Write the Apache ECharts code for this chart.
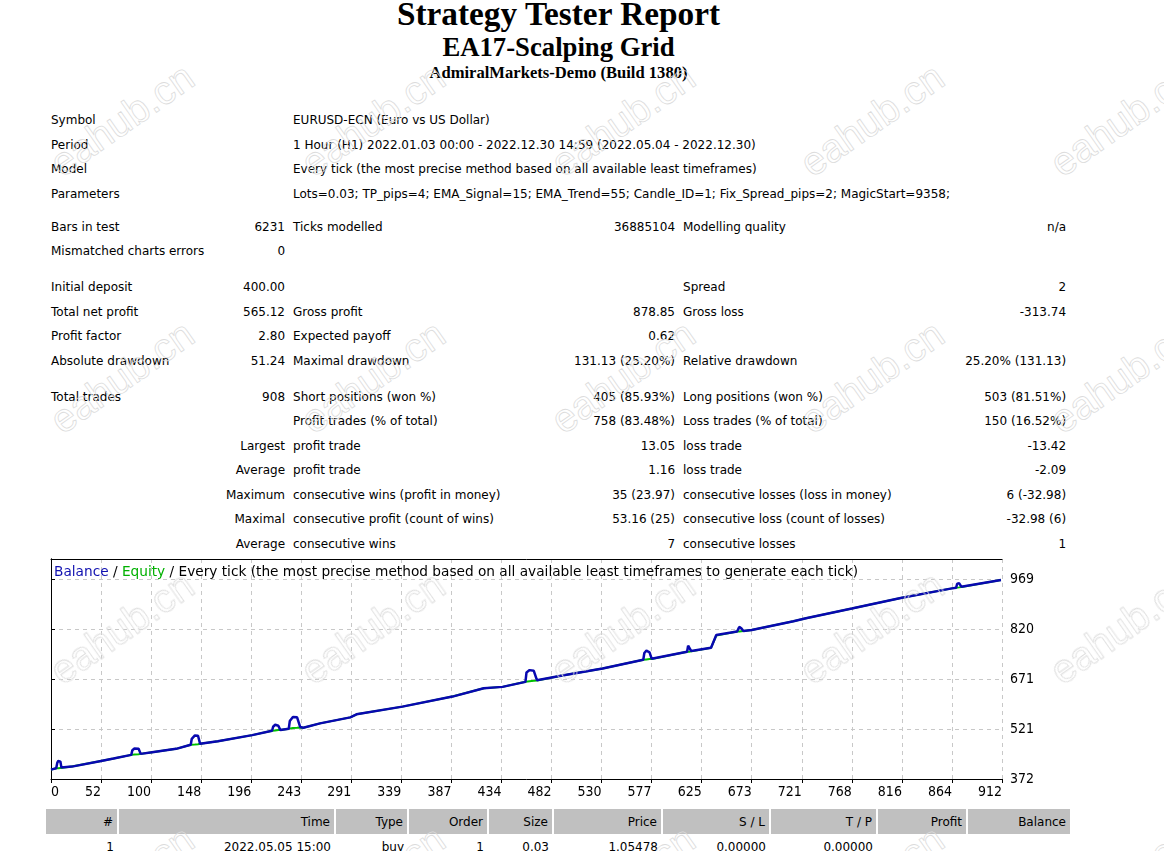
<!DOCTYPE html>
<html>
<head>
<meta charset="utf-8">
<title>Strategy Tester: EA17-Scalping Grid</title>
<script src="https://cdn.jsdelivr.net/npm/echarts@6/dist/echarts.min.js"></script>
<style>
    body { margin: 0; background: #fff; color: #000; font-family: 'DejaVu Sans', sans-serif; font-size: 12px; }
    .hdr { position: absolute; left: 47px; width: 1023px; text-align: center; font-family: 'Liberation Serif', 'Times New Roman', serif; font-weight: bold; white-space: nowrap; }
    #h1 { top: -2px; font-size: 33.3px; line-height: 32px; }
    #h2 { top: 34px; font-size: 26.7px; line-height: 26px; }
    #h3 { top: 65px; font-size: 16.6px; line-height: 16px; }
    table { border-collapse: collapse; table-layout: fixed; }
    #summary { position: absolute; left: 47px; top: 108px; width: 1023px; }
    #summary td { padding: 0 4px; height: 24.5px; white-space: nowrap; overflow: visible; }
    #summary tr.gap1 td { height: 8.5px; }
    #summary tr.gap2 td { height: 11.5px; }
    .r { text-align: right; }
    #chart { position: absolute; left: 47px; top: 555px; width: 1023px; height: 250px; }
    #trades { position: absolute; left: 46px; top: 809px; width: 1025px; }
    #trades td { padding: 0 4px; text-align: right; white-space: nowrap; }
    #trades tr.head td { background: #c0c0c0; height: 25px; border-right: 2px solid #fff; }
    #trades tr.row td { height: 25px; }
    .wm { position: absolute; z-index: 10; pointer-events: none; transform: translate(-50%, -50%) rotate(-35deg);
          font-family: 'Liberation Sans', Arial, sans-serif; font-size: 40px; color: transparent;
          -webkit-text-stroke: 0.8px #dcdcdc; white-space: nowrap; }
</style>
</head>
<body>
<div class="hdr" id="h1">Strategy Tester Report</div>
<div class="hdr" id="h2">EA17-Scalping Grid</div>
<div class="hdr" id="h3">AdmiralMarkets-Demo (Build 1380)</div>

<table id="summary">
    <colgroup>
        <col style="width:143px"><col style="width:99px"><col style="width:271px">
        <col style="width:119px"><col style="width:271px"><col style="width:120px">
    </colgroup>
    <tr><td colspan="2">Symbol</td><td colspan="4">EURUSD-ECN (Euro vs US Dollar)</td></tr>
    <tr><td colspan="2">Period</td><td colspan="4">1 Hour (H1) 2022.01.03 00:00 - 2022.12.30 14:59 (2022.05.04 - 2022.12.30)</td></tr>
    <tr><td colspan="2">Model</td><td colspan="4">Every tick (the most precise method based on all available least timeframes)</td></tr>
    <tr><td colspan="2">Parameters</td><td colspan="4">Lots=0.03; TP_pips=4; EMA_Signal=15; EMA_Trend=55; Candle_ID=1; Fix_Spread_pips=2; MagicStart=9358;</td></tr>
    <tr class="gap1"><td colspan="6"></td></tr>
    <tr><td>Bars in test</td><td class="r">6231</td><td>Ticks modelled</td><td class="r">36885104</td><td>Modelling quality</td><td class="r">n/a</td></tr>
    <tr><td>Mismatched charts errors</td><td class="r">0</td><td></td><td></td><td></td><td></td></tr>
    <tr class="gap2"><td colspan="6"></td></tr>
    <tr><td>Initial deposit</td><td class="r">400.00</td><td></td><td></td><td>Spread</td><td class="r">2</td></tr>
    <tr><td>Total net profit</td><td class="r">565.12</td><td>Gross profit</td><td class="r">878.85</td><td>Gross loss</td><td class="r">-313.74</td></tr>
    <tr><td>Profit factor</td><td class="r">2.80</td><td>Expected payoff</td><td class="r">0.62</td><td></td><td></td></tr>
    <tr><td>Absolute drawdown</td><td class="r">51.24</td><td>Maximal drawdown</td><td class="r">131.13 (25.20%)</td><td>Relative drawdown</td><td class="r">25.20% (131.13)</td></tr>
    <tr class="gap2"><td colspan="6"></td></tr>
    <tr><td>Total trades</td><td class="r">908</td><td>Short positions (won %)</td><td class="r">405 (85.93%)</td><td>Long positions (won %)</td><td class="r">503 (81.51%)</td></tr>
    <tr><td></td><td></td><td>Profit trades (% of total)</td><td class="r">758 (83.48%)</td><td>Loss trades (% of total)</td><td class="r">150 (16.52%)</td></tr>
    <tr><td></td><td class="r">Largest</td><td>profit trade</td><td class="r">13.05</td><td>loss trade</td><td class="r">-13.42</td></tr>
    <tr><td></td><td class="r">Average</td><td>profit trade</td><td class="r">1.16</td><td>loss trade</td><td class="r">-2.09</td></tr>
    <tr><td></td><td class="r">Maximum</td><td>consecutive wins (profit in money)</td><td class="r">35 (23.97)</td><td>consecutive losses (loss in money)</td><td class="r">6 (-32.98)</td></tr>
    <tr><td></td><td class="r">Maximal</td><td>consecutive profit (count of wins)</td><td class="r">53.16 (25)</td><td>consecutive loss (count of losses)</td><td class="r">-32.98 (6)</td></tr>
    <tr><td></td><td class="r">Average</td><td>consecutive wins</td><td class="r">7</td><td>consecutive losses</td><td class="r">1</td></tr>
</table>

<div id="chart"></div>

<table id="trades">
    <colgroup>
        <col style="width:72px"><col style="width:217px"><col style="width:73px"><col style="width:80px"><col style="width:65px">
        <col style="width:109px"><col style="width:108px"><col style="width:107px"><col style="width:90px"><col style="width:104px">
    </colgroup>
    <tr class="head"><td>#</td><td>Time</td><td>Type</td><td>Order</td><td>Size</td><td>Price</td><td>S / L</td><td>T / P</td><td>Profit</td><td>Balance</td></tr>
    <tr class="row"><td>1</td><td>2022.05.05 15:00</td><td>buy</td><td>1</td><td>0.03</td><td>1.05478</td><td>0.00000</td><td>0.00000</td><td></td><td></td></tr>
</table>

<div id="watermarks"></div>

<script>
// 图表数据（从报告曲线上读取）
const tradeIdx = [0, 5, 6, 7, 9, 10, 20, 48, 60, 77, 78, 80, 84, 86, 97, 120, 134, 135, 138, 141, 143, 160, 193,
    212, 213, 215, 218, 220, 228, 229, 232, 236, 239, 242, 258, 287, 293, 337, 385, 415, 433,
    455, 456, 459, 463, 466, 489, 529, 568, 569, 571, 574, 576, 610, 611, 612, 614, 633, 634, 638, 639,
    658, 660, 662, 664, 672, 712, 724, 768, 816, 864, 868, 869, 871, 873, 911];
const balanceVals = [400, 404, 420, 426, 424, 406, 409, 426, 433, 444, 458, 463, 462, 447, 452, 462, 474, 492, 502, 501, 477, 485, 503,
    516, 528, 534, 531, 518, 522, 545, 557, 556, 527, 525, 538, 556, 565, 588, 618, 643, 647,
    662, 690, 697, 695, 667, 680, 702, 728, 748, 755, 750, 731, 752, 770, 774, 754, 764, 766, 802, 804,
    812, 826, 822, 814, 817, 843, 852, 881, 913, 941, 943, 955, 956, 946, 966];
const equityVals = [400, 404, 404, 404, 405, 406, 409, 426, 433, 444, 445, 445, 446, 447, 452, 462, 474, 475, 475, 476, 477, 485, 503,
    516, 517, 517, 518, 518, 522, 524, 524, 525, 526, 525, 538, 556, 565, 588, 618, 643, 647,
    662, 664, 664, 665, 666, 680, 702, 728, 729, 729, 730, 730, 752, 752, 752, 753, 764, 764, 800, 804,
    812, 812, 813, 814, 817, 843, 852, 881, 913, 941, 943, 943, 944, 945, 966];

// 坐标轴刻度
const xTickLabels = ['0', '52', '100', '148', '196', '243', '291', '339', '387', '434', '482',
    '530', '577', '625', '673', '721', '768', '816', '864', '912'];
const yTickLabels = ['372', '521', '671', '820', '969'];

const X_STEP = 48;
const Y_MIN = 372;
const Y_STEP = 149.25;

const CHART_FONT = "'DejaVu Sans Condensed', 'DejaVu Sans', sans-serif";
const TITLE_FONT = "'DejaVu Sans', sans-serif";

// 水印位置
const wmX = [122, 373, 623, 872, 1122];
const wmY = [120, 377, 628, 882];

function addWatermarks() {
    const box = document.getElementById('watermarks');
    wmY.forEach(y => wmX.forEach(x => {
        const d = document.createElement('div');
        d.className = 'wm';
        d.textContent = 'eahub.cn';
        d.style.left = x + 'px';
        d.style.top = y + 'px';
        box.appendChild(d);
    }));
}

function initChart() {
    const chart = echarts.init(document.getElementById('chart'), null, { renderer: 'canvas' });

    const balance = tradeIdx.map((t, i) => [t, balanceVals[i]]);
    const equity = tradeIdx.map((t, i) => [t, equityVals[i]]);

    const frameAxis = {
        axisLine: { show: true, lineStyle: { color: '#000', width: 1 } },
        axisTick: { show: false },
        axisLabel: { show: false },
        splitLine: { show: false }
    };

    const option = {
        animation: false,
        backgroundColor: '#fff',
        title: {
            text: '{b|Balance} / {g|Equity} / Every tick (the most precise method based on all available least timeframes to generate each tick)',
            left: 7,
            top: 10,
            padding: 0,
            textStyle: {
                fontFamily: TITLE_FONT,
                fontSize: 13.7,
                fontWeight: 'normal',
                color: '#000',
                rich: {
                    b: { color: '#1010b0', fontFamily: TITLE_FONT, fontSize: 13.7 },
                    g: { color: '#00b000', fontFamily: TITLE_FONT, fontSize: 13.7 }
                }
            }
        },
        grid: {
            left: 4,
            right: 68,
            top: 4,
            bottom: 26,
            containLabel: false
        },
        xAxis: [{
            type: 'value',
            min: 0,
            max: 912,
            interval: X_STEP,
            axisLine: { show: true, lineStyle: { color: '#000', width: 1 } },
            axisTick: { show: true, length: 4, lineStyle: { color: '#000' } },
            splitLine: { show: true, lineStyle: { color: '#c8c8c8', type: [4, 4], width: 1 } },
            axisLabel: {
                margin: 6,
                align: 'right',
                alignMinLabel: 'left',
                fontFamily: CHART_FONT,
                fontSize: 14,
                color: '#000',
                formatter: v => xTickLabels[Math.round(v / X_STEP)] || ''
            }
        }, Object.assign({ type: 'value', position: 'top', min: 0, max: 912 }, frameAxis)],
        yAxis: [{
            type: 'value',
            position: 'right',
            min: Y_MIN,
            max: 1028.7,
            interval: Y_STEP,
            axisLine: { show: true, lineStyle: { color: '#000', width: 1 } },
            axisTick: { show: true, length: 4, lineStyle: { color: '#000' } },
            splitLine: { show: true, lineStyle: { color: '#c8c8c8', type: [4, 4], width: 1 } },
            axisLabel: {
                margin: 8,
                fontFamily: CHART_FONT,
                fontSize: 14,
                color: '#000',
                formatter: function (v) {
                    const k = (v - Y_MIN) / Y_STEP;
                    if (Math.abs(k - Math.round(k)) > 0.01) return '';
                    return yTickLabels[Math.round(k)] || '';
                }
            }
        }, Object.assign({ type: 'value', position: 'left', min: Y_MIN, max: 1028.7 }, frameAxis)],
        series: [
            {
                name: 'Equity',
                type: 'line',
                data: equity,
                showSymbol: false,
                lineStyle: { color: '#00c000', width: 2 },
                z: 2
            },
            {
                name: 'Balance',
                type: 'line',
                data: balance,
                showSymbol: false,
                lineStyle: { color: '#0808b0', width: 2.5 },
                z: 3
            }
        ]
    };
    chart.setOption(option);
}

document.addEventListener('DOMContentLoaded', () => {
    initChart();
    addWatermarks();
});
</script>
</body>
</html>
